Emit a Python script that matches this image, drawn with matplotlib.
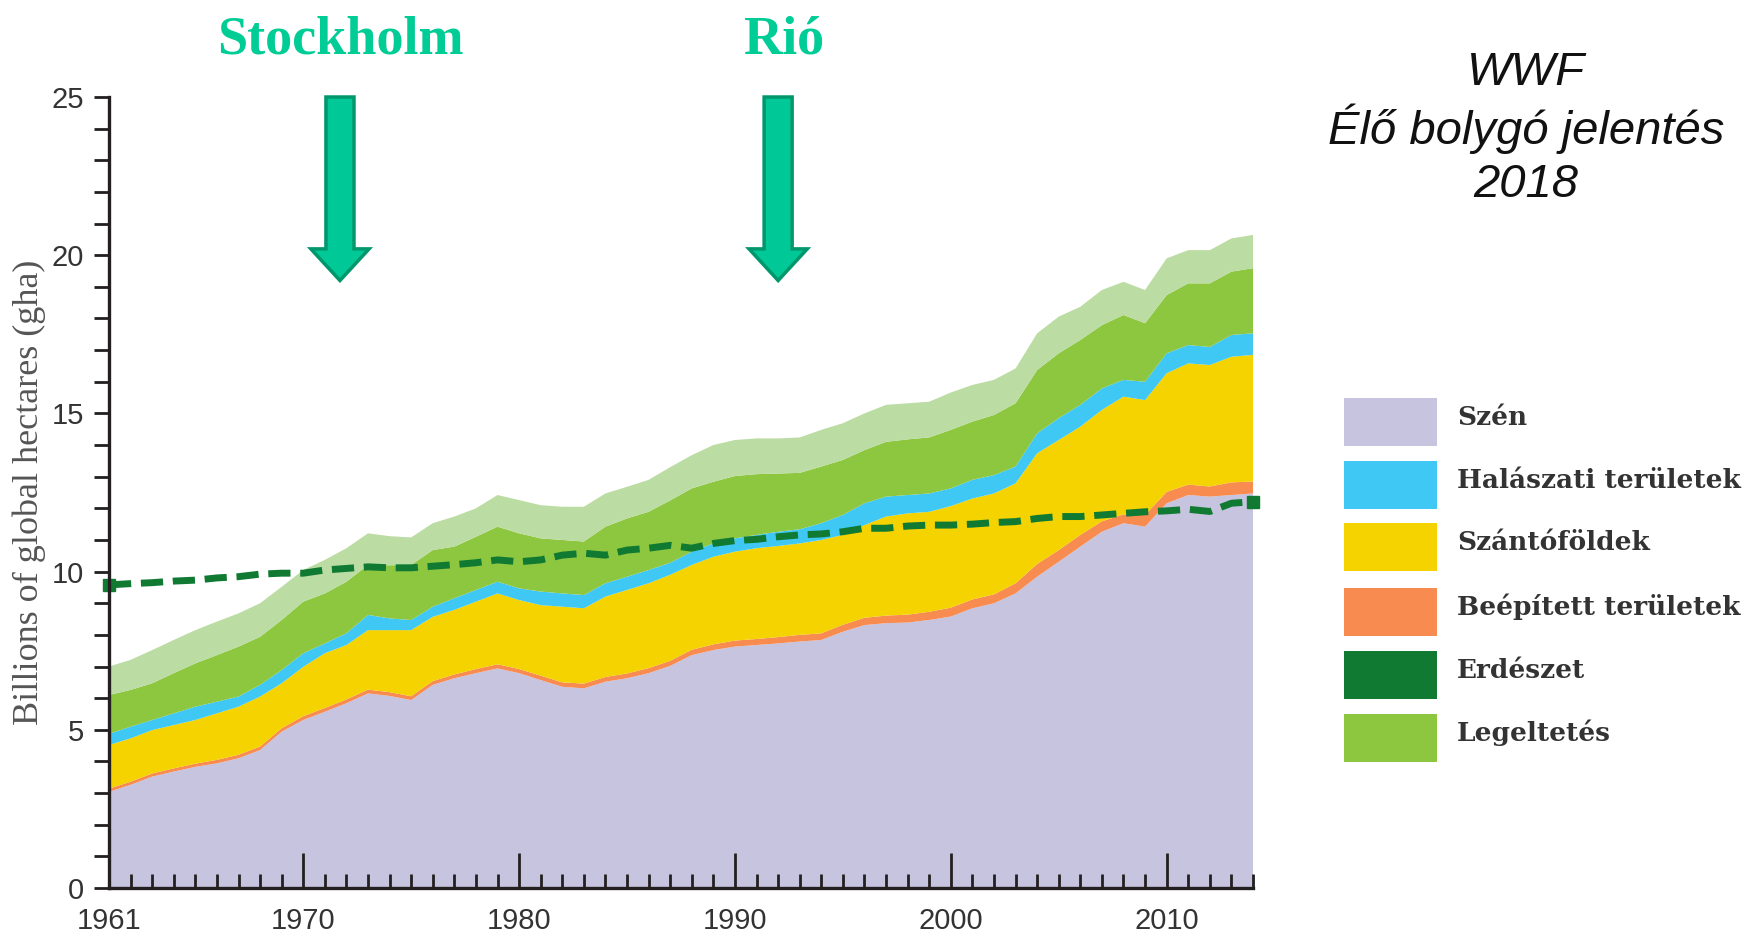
import numpy as np
import matplotlib
matplotlib.use("Agg")
import matplotlib.pyplot as plt
from matplotlib.patches import FancyArrow, Rectangle
from matplotlib.ticker import MultipleLocator
from matplotlib.transforms import blended_transform_factory

# évek
years = np.arange(1961, 2015)

# ökológiai lábnyom összetevők (milliárd gha)
szen = [3.04, 3.26, 3.52, 3.68, 3.83, 3.94, 4.10, 4.36, 4.94, 5.31,
        5.57, 5.84, 6.15, 6.07, 5.94, 6.42, 6.63, 6.79, 6.94, 6.79,
        6.57, 6.36, 6.31, 6.52, 6.63, 6.79, 7.02, 7.36, 7.52, 7.63,
        7.68, 7.73, 7.79, 7.84, 8.10, 8.31, 8.37, 8.39, 8.47, 8.58,
        8.84, 9.00, 9.31, 9.84, 10.31, 10.79, 11.26, 11.53, 11.42, 12.16,
        12.42, 12.37, 12.42, 12.47]
beepitett = [0.10, 0.10, 0.10, 0.10, 0.10, 0.11, 0.11, 0.11, 0.11, 0.12,
             0.12, 0.12, 0.12, 0.12, 0.12, 0.12, 0.12, 0.13, 0.13, 0.13,
             0.14, 0.14, 0.15, 0.15, 0.15, 0.16, 0.16, 0.17, 0.18, 0.19,
             0.19, 0.20, 0.21, 0.21, 0.22, 0.23, 0.24, 0.25, 0.26, 0.28,
             0.28, 0.28, 0.32, 0.40, 0.37, 0.37, 0.33, 0.28, 0.37, 0.36,
             0.33, 0.32, 0.40, 0.38]
szanto = [1.38, 1.37, 1.37, 1.37, 1.38, 1.47, 1.52, 1.58, 1.42, 1.56,
          1.73, 1.72, 1.88, 1.96, 2.09, 2.03, 2.04, 2.13, 2.24, 2.18,
          2.23, 2.39, 2.38, 2.54, 2.64, 2.68, 2.72, 2.68, 2.77, 2.81,
          2.87, 2.88, 2.89, 2.95, 2.84, 2.93, 3.13, 3.20, 3.16, 3.21,
          3.19, 3.19, 3.16, 3.50, 3.48, 3.42, 3.52, 3.72, 3.63, 3.75,
          3.83, 3.84, 3.97, 4.00]
halaszati = [0.35, 0.37, 0.32, 0.37, 0.42, 0.37, 0.32, 0.37, 0.42, 0.43,
             0.31, 0.37, 0.48, 0.37, 0.32, 0.32, 0.37, 0.37, 0.37, 0.37,
             0.43, 0.42, 0.42, 0.42, 0.42, 0.42, 0.38, 0.42, 0.42, 0.42,
             0.42, 0.45, 0.45, 0.53, 0.63, 0.69, 0.63, 0.58, 0.58, 0.56,
             0.59, 0.58, 0.53, 0.63, 0.69, 0.69, 0.68, 0.53, 0.58, 0.63,
             0.58, 0.57, 0.69, 0.68]
legeltetes = [1.23, 1.16, 1.16, 1.27, 1.37, 1.47, 1.58, 1.52, 1.58, 1.63,
              1.58, 1.63, 1.58, 1.68, 1.74, 1.79, 1.63, 1.68, 1.74, 1.74,
              1.68, 1.69, 1.69, 1.79, 1.84, 1.84, 1.97, 2.00, 1.95, 1.97,
              1.92, 1.84, 1.78, 1.79, 1.74, 1.68, 1.73, 1.76, 1.77, 1.85,
              1.84, 1.90, 2.00, 2.00, 2.05, 2.05, 2.00, 2.05, 1.85, 1.84,
              1.95, 2.01, 2.00, 2.06]
erdeszet = [0.90, 0.95, 1.05, 1.05, 1.05, 1.06, 1.05, 1.06, 1.05, 1.00,
            1.06, 1.06, 1.00, 0.92, 0.87, 0.85, 0.95, 0.90, 1.00, 1.05,
            1.05, 1.05, 1.10, 1.05, 1.00, 1.01, 1.05, 1.05, 1.16, 1.14,
            1.13, 1.11, 1.12, 1.16, 1.16, 1.16, 1.17, 1.14, 1.13, 1.18,
            1.16, 1.11, 1.10, 1.16, 1.16, 1.05, 1.11, 1.05, 1.05, 1.16,
            1.05, 1.05, 1.05, 1.05]

# biokapacitás (szaggatott vonal)
biokapacitas = [9.58, 9.62, 9.65, 9.70, 9.73, 9.80, 9.84, 9.92, 9.95, 9.95,
                10.05, 10.10, 10.15, 10.12, 10.12, 10.17, 10.22, 10.28, 10.37, 10.31,
                10.37, 10.52, 10.58, 10.52, 10.68, 10.74, 10.83, 10.74, 10.89, 10.98,
                11.02, 11.10, 11.16, 11.19, 11.26, 11.37, 11.37, 11.44, 11.47, 11.47,
                11.50, 11.55, 11.58, 11.68, 11.74, 11.74, 11.79, 11.84, 11.89, 11.92,
                11.97, 11.90, 12.16, 12.21]

legend_labels = ['Szén', 'Halászati területek', 'Szántóföldek',
                 'Beépített területek', 'Erdészet', 'Legeltetés']
legend_colors = ['#C7C4E0', '#40C8F4', '#F4D300', '#F78B50', '#107A32', '#8DC63F']

x_tick_years = [1961, 1970, 1980, 1990, 2000, 2010]
esemenyek = ['Stockholm', 'Rió']
esemeny_evek = [1971.7, 1992]

W, H = 1758, 934
fig = plt.figure(figsize=(W / 100, H / 100), dpi=100)
ax = fig.add_axes([109 / W, 1 - 888 / H, (1253 - 109) / W, (888 - 97) / H])

stack_colors = ['#C7C4E0', '#F78B50', '#F4D300', '#40C8F4', '#8DC63F', '#BBDCA3']
ax.stackplot(years, szen, beepitett, szanto, halaszati, legeltetes, erdeszet,
             colors=stack_colors, linewidth=0, zorder=1)

ax.plot(years, biokapacitas, color='#107A32', lw=5, dashes=(3.2, 1.4),
        solid_capstyle='butt', zorder=3)
ax.plot(years[[0, -1]], np.array(biokapacitas)[[0, -1]], 's', color='#107A32',
        ms=8, zorder=3, clip_on=False)

ax.set_xlim(1961, 2014)
ax.set_ylim(0, 25)

for s in ['top', 'right']:
    ax.spines[s].set_visible(False)
for s in ['left', 'bottom']:
    ax.spines[s].set_linewidth(2.4)
    ax.spines[s].set_color('#231F20')
    ax.spines[s].set_zorder(5)

tick_font = ['Liberation Sans Narrow', 'Liberation Sans', 'DejaVu Sans']
ax.set_xticks(x_tick_years)
ax.xaxis.set_minor_locator(MultipleLocator(1))
ax.yaxis.set_major_locator(MultipleLocator(5))
ax.yaxis.set_minor_locator(MultipleLocator(1))
ax.tick_params(axis='x', which='major', direction='in', length=25, width=2,
               color='#231F20', pad=14, labelsize=21, labelcolor='#333333')
ax.tick_params(axis='x', which='minor', direction='in', length=10, width=2,
               color='#231F20')
ax.tick_params(axis='y', which='both', direction='out', length=11, width=2,
               color='#231F20', pad=7, labelsize=21, labelcolor='#333333')
for lab in ax.get_xticklabels() + ax.get_yticklabels():
    lab.set_family(tick_font)

fig.text(29 / W, 1 - 492 / H, 'Billions of global hectares (gha)', rotation=90,
         ha='center', va='center', fontsize=26, color='#555555',
         family=['Liberation Serif', 'DejaVu Serif'])

# nyilak és feliratok
trans = blended_transform_factory(ax.transData, fig.transFigure)
for nev, ev in zip(esemenyek, esemeny_evek):
    arr = FancyArrow(ev, 25, 0, -5.8, width=1.3, head_width=2.7, head_length=1.0,
                     length_includes_head=True, facecolor='#00C896',
                     edgecolor='#00976C', linewidth=2.5, clip_on=False, zorder=6)
    ax.add_patch(arr)
    ax.text(ev + (0.25 if nev == 'Rió' else 0), 1 - 54 / H, nev, transform=trans,
            ha='center', va='baseline', fontsize=39, fontweight='bold',
            color='#00CC96', family=['Liberation Serif', 'DejaVu Serif'])

# cím jobbra fent
cim = ['WWF', 'Élő bolygó jelentés', '2018']
for i, sor in enumerate(cim):
    fig.text(1526 / W, 1 - (73 + 56 * i) / H, sor, ha='center', va='center',
             fontsize=34, style='italic', color='#111111',
             family=['Liberation Sans', 'DejaVu Sans'])

# jelmagyarázat
row_centers = [422, 485, 547, 612, 675, 738]
for lab, col, yc in zip(legend_labels, legend_colors, row_centers):
    h = 48
    fig.add_artist(Rectangle((1344 / W, 1 - (yc + h / 2) / H), 93 / W, h / H,
                             transform=fig.transFigure, facecolor=col,
                             edgecolor='none'))
    fig.text(1457 / W, 1 - (yc + 3) / H, lab, ha='left', va='baseline',
             fontsize=19, fontweight='bold', color='#333333',
             family=['DejaVu Serif'])

fig.savefig('out.png', dpi=100)
